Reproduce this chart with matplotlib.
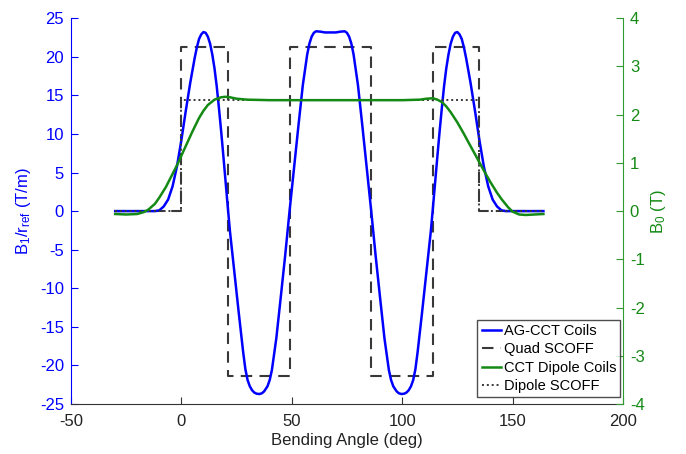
import matplotlib
matplotlib.use("Agg")
import matplotlib.pyplot as plt

plt.rcParams['font.family'] = ['Liberation Sans', 'DejaVu Sans']
plt.rcParams['mathtext.fontset'] = 'custom'
plt.rcParams['mathtext.rm'] = 'Liberation Sans'
plt.rcParams['mathtext.it'] = 'Liberation Sans:italic'
plt.rcParams['axes.unicode_minus'] = False

# AG-CCT Coils (T/m)
ag_x = [-30, -20, -12, -10, -8, -6, -4, -2, 0, 2, 4, 6, 7, 8, 9, 10, 11, 12, 13, 14, 15, 16,
        17, 18, 19, 20, 21, 22, 24, 26, 28, 29, 30, 31, 32, 33, 34, 35.3, 36.5, 37.5, 39,
        40, 41, 43, 45, 47, 49, 51, 53, 55, 57, 58, 59, 60, 61, 63, 65, 67.5, 70, 72, 74, 75,
        76, 77, 78, 80, 82, 84, 86, 88, 90, 92, 94, 95, 96, 97.5, 98.5, 99.7, 101, 102, 103,
        104, 105, 106, 107, 109, 111, 113, 114, 115, 116, 117, 118, 119, 120, 121, 122, 123,
        124, 125, 126, 127, 128, 129, 131, 133, 135, 137, 139, 141, 143, 145, 147, 164]
ag_y = [0, 0, 0, 0.1, 0.6, 1.5, 3.2, 5.8, 9.2, 13.0, 16.6, 19.8, 21.2, 22.3, 22.9, 23.2, 23.1,
        22.6, 21.7, 20.3, 18.5, 16.2, 13.4, 10.4, 7.2, 3.9, 0.6, -2.6, -7.9, -13.2, -18.3,
        -20.5, -21.9, -22.7, -23.2, -23.5, -23.65, -23.7, -23.6, -23.35, -22.7, -21.9, -20.6,
        -16.5, -11.2, -5.8, 0.0, 5.5, 11.0, 16.3, 20.3, 21.7, 22.6, 23.1, 23.3, 23.25, 23.15,
        23.15, 23.15, 23.25, 23.3, 23.1, 22.6, 21.7, 20.3, 16.3, 11.0, 5.5, 0.0, -5.8, -11.2,
        -16.5, -20.6, -21.9, -22.7, -23.35, -23.6, -23.7, -23.65, -23.5, -23.2, -22.7, -21.9,
        -20.5, -18.3, -13.2, -7.9, -2.6, 0.6, 3.9, 7.2, 10.4, 13.4, 16.2, 18.5, 20.3, 21.7,
        22.6, 23.1, 23.2, 22.9, 22.3, 21.2, 19.8, 16.6, 13.0, 9.2, 5.8, 3.2, 1.5, 0.6, 0.1,
        0, 0]

# Quad SCOFF (T/m)
quad_x = [-30, 0, 0, 21.2, 21.2, 49, 49, 86, 86, 113.8, 113.8, 135, 135, 164]
quad_y = [0, 0, 21.3, 21.3, -21.3, -21.3, 21.3, 21.3, -21.3, -21.3, 21.3, 21.3, 0, 0]

# CCT Dipole Coils (T)
dip_x = [-30, -25, -20, -17, -15, -12, -10, -7, -5, -2, 0, 2, 5, 8, 10, 12, 15, 18, 20, 22,
         25, 30, 40, 60, 80, 100, 108, 111, 114, 116, 118, 120, 122, 125, 128, 130, 133, 135,
         138, 140, 143, 145, 148, 150, 153, 156, 160, 164]
dip_y = [-0.06, -0.07, -0.06, -0.02, 0.03, 0.15, 0.28, 0.5, 0.68, 0.95, 1.15, 1.35, 1.65,
         1.93, 2.08, 2.2, 2.31, 2.36, 2.37, 2.36, 2.33, 2.31, 2.3, 2.3, 2.3, 2.3, 2.31, 2.33,
         2.34, 2.31, 2.26, 2.17, 2.05, 1.84, 1.6, 1.43, 1.18, 1.01, 0.76, 0.6, 0.38, 0.25,
         0.08, -0.01, -0.07, -0.08, -0.07, -0.06]

# Dipole SCOFF (T)
dsc_x = [-30, 0, 0, 135, 135, 164]
dsc_y = [0, 0, 2.3, 2.3, 0, 0]

BLUE = '#0000ff'
GREEN = '#148a14'
AXGREEN = '#2f9a2f'
GRAY = '#383838'

fig = plt.figure(figsize=(6.86, 4.54), dpi=100)
ax = fig.add_axes([0.1035, 0.110, 0.8045, 0.850])
ax2 = ax.twinx()

l1, = ax.plot(ag_x, ag_y, color=BLUE, lw=1.8, label='AG-CCT Coils', zorder=3)
l2, = ax.plot(quad_x, quad_y, color=GRAY, lw=1.5, ls=(0, (5.5, 3.5)), label='Quad SCOFF', zorder=2)
l3, = ax2.plot(dip_x, dip_y, color=GREEN, lw=1.8, label='CCT Dipole Coils', zorder=3)
l4, = ax2.plot(dsc_x, dsc_y, color=GRAY, lw=1.4, ls=(0, (1, 1.5)), label='Dipole SCOFF', zorder=2)

ax.set_xlim(-50, 200)
ax.set_ylim(-25, 25)
ax2.set_ylim(-4, 4)
ax.set_xticks([-50, 0, 50, 100, 150, 200])
ax.set_yticks(range(-25, 30, 5))
ax2.set_yticks(range(-4, 5, 1))

for a in (ax, ax2):
    a.spines['top'].set_visible(False)
ax.spines['right'].set_visible(False)
ax2.spines['left'].set_visible(False)
ax2.spines['bottom'].set_visible(False)
ax.spines['left'].set_color(BLUE)
ax.spines['bottom'].set_color('#333333')
ax2.spines['right'].set_color(AXGREEN)

ax.tick_params(axis='y', direction='in', colors=BLUE, labelsize=12, length=5, pad=5)
ax.tick_params(axis='x', direction='in', colors='#333333', labelsize=12, length=5,
               labelcolor='#222222', pad=7)
ax2.tick_params(axis='y', direction='in', colors=AXGREEN, labelsize=12, length=5,
                labelcolor=GREEN, pad=5)

ax.set_xlabel('Bending Angle (deg)', fontsize=12, color='#222222', labelpad=3)
ax.set_ylabel(r'$\mathregular{B_1/r_{ref}}$ (T/m)', fontsize=12, color=BLUE, labelpad=5)
ax2.set_ylabel(r'$\mathregular{B_0}$ (T)', fontsize=12, color=GREEN, labelpad=3)

leg = ax2.legend(handles=[l1, l2, l3, l4], loc='lower right', fontsize=10.5,
                 bbox_to_anchor=(0.9955, 0.017), frameon=True, fancybox=False,
                 handlelength=1.3, handletextpad=0.2, borderpad=0.3, labelspacing=0.3,
                 borderaxespad=0.0)
leg.get_frame().set_edgecolor('#222222')
leg.get_frame().set_linewidth(1.0)

fig.savefig('out.png', dpi=100)
